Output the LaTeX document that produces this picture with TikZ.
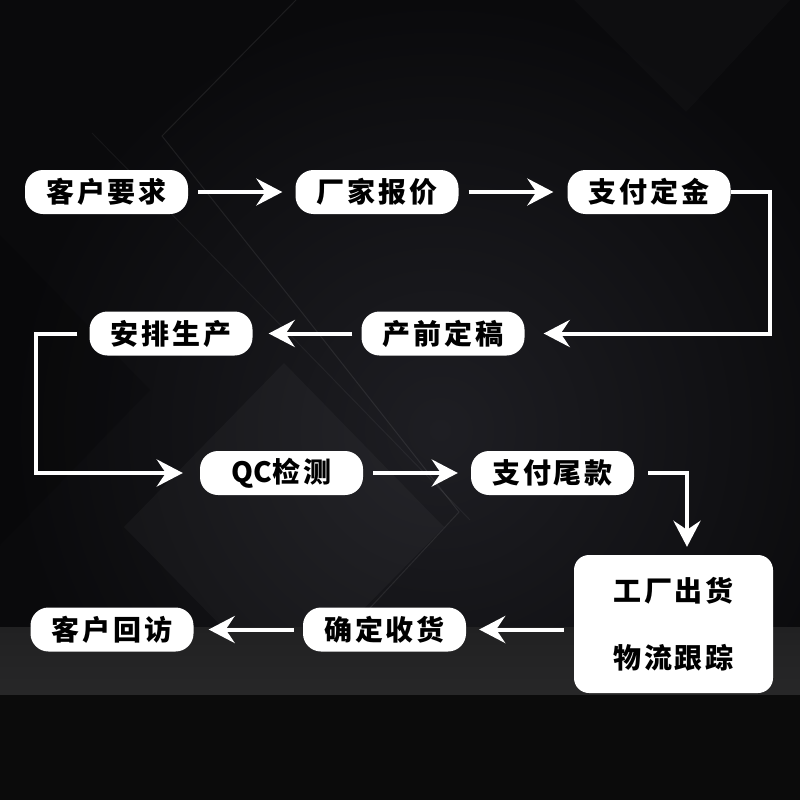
\documentclass[tikz,border=0pt]{standalone}
\usepackage{fontspec}
\usetikzlibrary{arrows.meta,calc}
\newfontfamily\cjk{Noto Sans CJK SC}[LetterSpace=10]
\newfontfamily\cjkn{Noto Sans CJK SC}
\definecolor{bgc}{RGB}{10,10,12}
\definecolor{glow}{RGB}{30,30,35}
\definecolor{bandtop}{RGB}{33,33,34}
\definecolor{bandbot}{RGB}{39,39,40}
\definecolor{floor}{RGB}{11,11,11}
\tikzset{
  pill/.style={fill=white, rounded corners=18pt, minimum width=163pt, minimum height=44pt, inner sep=0pt,
    font=\cjk\bfseries\fontsize{28}{32}\selectfont, text=black},
  bigbox/.style={fill=white, rounded corners=15pt, minimum width=199pt, minimum height=138pt, inner sep=0pt,
    align=center, font=\cjk\bfseries\fontsize{28}{67}\selectfont, text=black},
  conn/.style={draw=white, line width=4pt, -{Stealth[length=26pt, width=27pt, inset=9pt]}},
  deco/.style={draw=white, draw opacity=0.08, line width=1pt}
}
\begin{document}
\begin{tikzpicture}[x=1pt,y=-1pt]
\useasboundingbox (0,0) rectangle (800,800);
\begin{scope}
\clip (0,0) rectangle (800,800);
\fill[bgc] (0,0) rectangle (800,800);
\shade[inner color=glow, outer color=bgc] (440,430) circle (430);
% faint background diamonds
\fill[white, opacity=0.03] (284,363) -- (444,527) -- (284,690) -- (124,527) -- cycle;
\fill[white, opacity=0.02] (574,0) -- (686,112) -- (790,0) -- cycle;
\fill[black, opacity=0.15] (0,235) -- (150,390) -- (0,545) -- cycle;
\draw[deco] (296,0) -- (162,136) -- (300,310) -- (459,512) -- (357,622);
\draw[deco, draw opacity=0.05] (92,133) -- (300,345) -- (470,520);
% bottom band and floor
\shade[top color=bandtop, bottom color=bandbot] (0,627) rectangle (800,695);
\fill[floor] (0,695) rectangle (800,800);
\end{scope}

% nodes
\node[pill] (b1) at (106.5,192) {客户要求};
\node[pill] (b2) at (377,192) {厂家报价};
\node[pill] (b3) at (649,192) {支付定金};
\node[pill] (b4) at (443,333.5) {产前定稿};
\node[pill] (b5) at (171,333.5) {安排生产};
\node[pill] (b6) at (281.5,473) {{\cjkn\bfseries QC}检测};
\node[pill] (b7) at (552.5,473) {支付尾款};
\node[bigbox] (b8) at (673.5,624) {工厂出货\\物流跟踪};
\node[pill] (b9) at (384.5,629.5) {确定收货};
\node[pill] (b10) at (112,629.5) {客户回访};

% connectors
\draw[conn, shorten <=10pt, shorten >=13pt] (b1) -- (b2);
\draw[conn, shorten <=10pt, shorten >=14pt] (b2) -- (b3);
\draw[conn, line cap=butt] (b3.east) -- ++(39,0) |- ([xshift=19pt]b4.east);
\draw[conn, shorten <=9pt, shorten >=16pt] (b4) -- (b5);
\draw[conn, shorten <=12pt] (b5.west) -- ++(-53,0) |- ([xshift=-17pt]b6.west);
\draw[conn, shorten <=10pt, shorten >=13pt] (b6) -- (b7);
\draw[conn, shorten <=14pt, shorten >=8pt] (b7.east) -| ([xshift=13.5pt]b8.north);
\draw[conn, shorten <=10pt, shorten >=13pt] (b8.west |- b9.east) -- (b9.east);
\draw[conn, shorten <=9pt, shorten >=15pt] (b9) -- (b10);
\end{tikzpicture}
\end{document}
